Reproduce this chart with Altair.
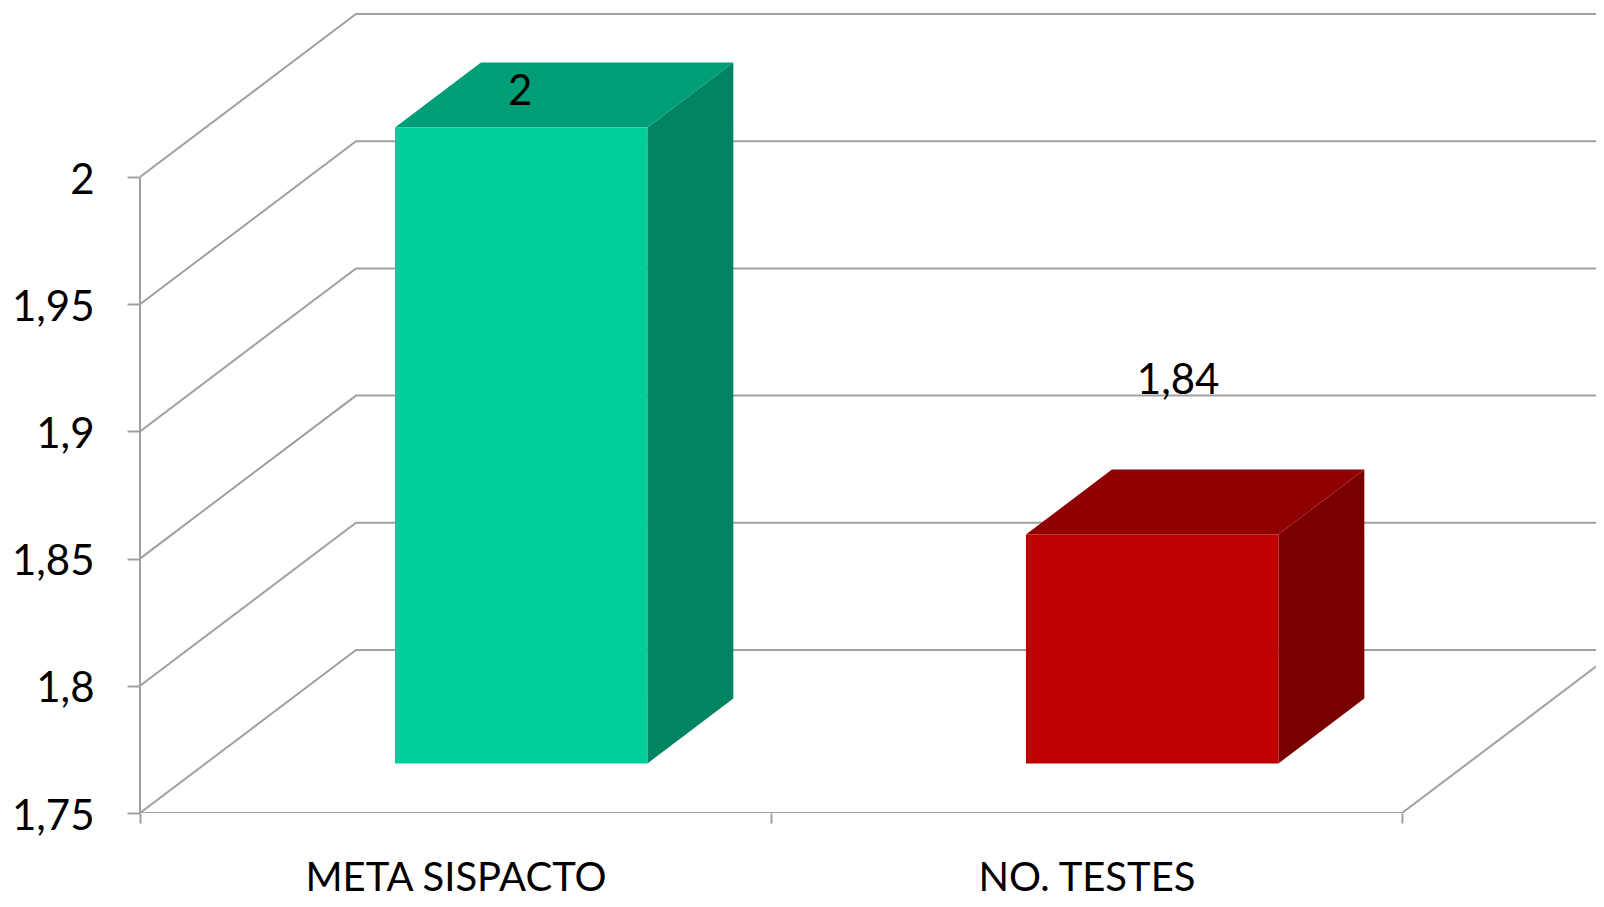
import altair as alt
import pandas as pd

categories = ["META SISPACTO", "NO. TESTES"]
values = [2.0, 1.84]
label_texts = ["2", "1,84"]
y_ticks = [1.75, 1.8, 1.85, 1.9, 1.95, 2.0]
front_colors = ["#00CE9A", "#BE0000"]
top_colors = ["#009E76", "#900000"]
side_colors = ["#008462", "#7A0000"]

GRID = "#A0A0A0"
FONT = "Lato"
W, H = 1456, 805
PX_X, PX_Y = 631.0, 2544.0          # pixels per category, pixels per value unit
DEPTH_X, DEPTH_Y = 216 / PX_X, 163 / PX_Y
BASE = 1.75
X_MAX, Y_MAX = W / PX_X, BASE + H / PX_Y
HALF, D0, D1 = 0.2, 0.304, 0.702

xs = alt.Scale(domain=[0, X_MAX], nice=False, zero=False)
ys = alt.Scale(domain=[BASE, Y_MAX], nice=False, zero=False)

y_axis = alt.Axis(
    values=y_ticks, domain=False, grid=False, tickColor=GRID, tickWidth=2, tickSize=13,
    labelFont=FONT, labelFontSize=42, labelColor="black", labelPadding=33, labelOffset=3,
    labelExpr="replace(format(datum.value, '.2~f'), '.', ',')", labelOverlap=False, labelBound=False,
    title=None,
)
x_axis = alt.Axis(
    values=[0, 0.5, 1, 1.5, 2], domain=False, grid=False, tickColor=GRID, tickWidth=2, tickSize=10,
    tickOpacity={"condition": {"test": "datum.value % 1 === 0", "value": 1}, "value": 0},
    labelFont=FONT, labelFontSize=40, labelColor="black", labelPadding=35, labelLimit=0,
    labelAngle=0, labelOverlap=False, labelBound=False, labelFlush=False,
    labelExpr="datum.value === 0.5 ? '%s' : datum.value === 1.5 ? '%s' : ''" % tuple(categories),
    title=None,
)


def X():
    return alt.X("x:Q", scale=xs, axis=x_axis)


def Y():
    return alt.Y("y:Q", scale=ys, axis=y_axis)


# grid polylines
grid_rows = []
for v in y_ticks:
    grid_rows += [
        {"g": v, "o": 0, "x": 0, "y": v},
        {"g": v, "o": 1, "x": DEPTH_X, "y": v + DEPTH_Y},
        {"g": v, "o": 2, "x": X_MAX, "y": v + DEPTH_Y},
    ]
grid_rows += [
    {"g": -1, "o": 0, "x": 0, "y": BASE},
    {"g": -1, "o": 1, "x": 2, "y": BASE},
    {"g": -1, "o": 2, "x": 2 + DEPTH_X, "y": BASE + DEPTH_Y},
]
grid = alt.Chart(pd.DataFrame(grid_rows)).mark_line(
    color=GRID, strokeWidth=2, clip=True
).encode(x=X(), y=Y(), detail="g:N", order="o:Q")

axis_line = alt.Chart(pd.DataFrame({"x": [0], "y": [BASE], "y2": [max(y_ticks)]})).mark_rule(
    color=GRID, strokeWidth=2
).encode(x=X(), y=Y(), y2="y2:Q")

# bars
layers = [grid, axis_line]
for i, (v, fc, tc, sc) in enumerate(zip(values, front_colors, top_colors, side_colors)):
    c = i + 0.5
    l, r = c - HALF + D0 * DEPTH_X, c + HALF + D0 * DEPTH_X
    b0 = BASE + D0 * DEPTH_Y
    t0 = v + D0 * DEPTH_Y
    dx, dy = (D1 - D0) * DEPTH_X, (D1 - D0) * DEPTH_Y

    side = pd.DataFrame({"x": [r, r + dx], "y": [b0, b0 + dy], "y2": [t0, t0 + dy]})
    layers.append(alt.Chart(side).mark_area(color=sc, orient="vertical").encode(x=X(), y=Y(), y2="y2:Q"))

    top = pd.DataFrame({"y": [t0, t0 + dy], "x": [l, l + dx], "x2": [r, r + dx]})
    layers.append(alt.Chart(top).mark_area(color=tc, orient="horizontal").encode(x=X(), x2="x2:Q", y=Y()))

    front = pd.DataFrame({"x": [l], "x2": [r], "y": [b0], "y2": [t0]})
    layers.append(alt.Chart(front).mark_rect(color=fc).encode(x=X(), x2="x2:Q", y=Y(), y2="y2:Q"))

# value labels
offsets = [(-1, -85), (26, -203)]
for i, (v, txt, (ox, oy)) in enumerate(zip(values, label_texts, offsets)):
    d = pd.DataFrame({"x": [i + 0.5 + D0 * DEPTH_X], "y": [v], "t": [txt]})
    layers.append(
        alt.Chart(d).mark_text(font=FONT, fontSize=42, color="black", dx=ox, dy=oy, align="center", baseline="middle")
        .encode(x=X(), y=Y(), text="t:N")
    )

chart = (
    alt.layer(*layers)
    .properties(
        width=W, height=H, background="white",
        autosize=alt.AutoSizeParams(type="none"),
        padding={"left": 132, "top": 0, "right": 0, "bottom": 86},
    )
    .configure_view(stroke=None)
)
chart.save("out.html", embed_options={"renderer": "svg", "actions": False})
